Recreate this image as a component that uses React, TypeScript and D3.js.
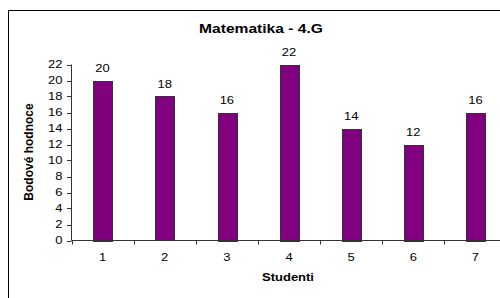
import { useEffect, useRef } from 'react';
import * as d3 from 'd3';

const categories = ['1', '2', '3', '4', '5', '6', '7'];
const values = [20, 18, 16, 22, 14, 12, 16];
const yTicks = [0, 2, 4, 6, 8, 10, 12, 14, 16, 18, 20, 22];
const title = 'Matematika - 4.G';
const xTitle = 'Studenti';
const yTitle = 'Bodové hodnoce';

const W = 500;
const H = 298;
const SX = 1.3; // the original looks stretched sideways

export default function App() {
  const svgRef = useRef<SVGSVGElement>(null);

  useEffect(() => {
    if (!svgRef.current) return;
    const svg = d3.select(svgRef.current);
    svg.selectAll('*').remove();

    const font = '"Liberation Sans", Arial, sans-serif';

    // outer frame (runs off the right and bottom edges)
    svg.append('rect')
      .attr('x', 8.5).attr('y', 10.5)
      .attr('width', 520).attr('height', 320)
      .attr('fill', 'white').attr('stroke', '#000').attr('stroke-width', 1);

    const x = d3.scaleBand<string>()
      .domain(categories)
      .range([71.5, 506.5])
      .paddingInner(0.7)
      .paddingOuter(0.35);
    const band = d3.scaleBand<string>().domain(categories).range([71.5, 506.5]);
    const y = d3.scaleLinear().domain([0, 22]).range([240.5, 64.5]);

    // bars
    svg.append('g').selectAll('rect')
      .data(values)
      .join('rect')
      .attr('x', (_, i) => Math.round(x(categories[i])!) + 0.5)
      .attr('y', (d) => Math.round(y(d)) + 0.5)
      .attr('width', Math.round(x.bandwidth()))
      .attr('height', (d) => Math.round(y(0) - y(d)))
      .attr('fill', '#800080')
      .attr('stroke', '#333')
      .attr('stroke-width', 1);

    // value labels
    svg.append('g').selectAll('text')
      .data(values)
      .join('text')
      .attr('transform', (d, i) =>
        `translate(${x(categories[i])! + x.bandwidth() / 2},${y(d) - 8.5}) scale(${SX},1)`)
      .attr('text-anchor', 'middle')
      .style('font-family', font)
      .style('font-size', '10px')
      .attr('fill', '#000')
      .text((d) => d);

    // y axis
    const ya = svg.append('g');
    ya.append('line')
      .attr('x1', 71.5).attr('x2', 71.5)
      .attr('y1', y(22)).attr('y2', y(0))
      .attr('stroke', '#333');
    yTicks.forEach((t) => {
      ya.append('line')
        .attr('x1', 67).attr('x2', 71.5)
        .attr('y1', Math.round(y(t)) + 0.5).attr('y2', Math.round(y(t)) + 0.5)
        .attr('stroke', '#333');
      ya.append('text')
        .attr('transform', `translate(62.5,${y(t) + 3.5}) scale(${SX},1)`)
        .attr('text-anchor', 'end')
        .style('font-family', font)
        .style('font-size', '10px')
        .text(t);
    });

    // x axis
    const xa = svg.append('g');
    xa.append('line')
      .attr('x1', 71.5).attr('x2', 506.5)
      .attr('y1', y(0)).attr('y2', y(0))
      .attr('stroke', '#333');
    categories.forEach((c) => {
      const x0 = Math.round(band(c)!) + 0.5;
      xa.append('line')
        .attr('x1', x0).attr('x2', x0)
        .attr('y1', y(0)).attr('y2', y(0) + 4)
        .attr('stroke', '#333');
      xa.append('text')
        .attr('transform', `translate(${band(c)! + band.bandwidth() / 2},261) scale(${SX},1)`)
        .attr('text-anchor', 'middle')
        .style('font-family', font)
        .style('font-size', '10px')
        .text(c);
    });

    // titles
    svg.append('text')
      .attr('transform', `translate(261,33) scale(${SX},1)`)
      .attr('text-anchor', 'middle')
      .style('font-family', font)
      .style('font-size', '12px')
      .style('font-weight', 'bold')
      .text(title);

    svg.append('text')
      .attr('transform', `translate(288,281) scale(${SX},1)`)
      .attr('text-anchor', 'middle')
      .style('font-family', font)
      .style('font-size', '10px')
      .style('font-weight', 'bold')
      .text(xTitle);

    svg.append('text')
      .attr('transform', 'translate(32.5,152) rotate(-90)')
      .attr('text-anchor', 'middle')
      .style('font-family', font)
      .style('font-size', '12px')
      .style('font-weight', 'bold')
      .text(yTitle);
  }, []);

  return (
    <svg
      ref={svgRef}
      width={W}
      height={H}
      style={{ position: 'absolute', left: 0, top: 0, background: 'white' }}
    />
  );
}
